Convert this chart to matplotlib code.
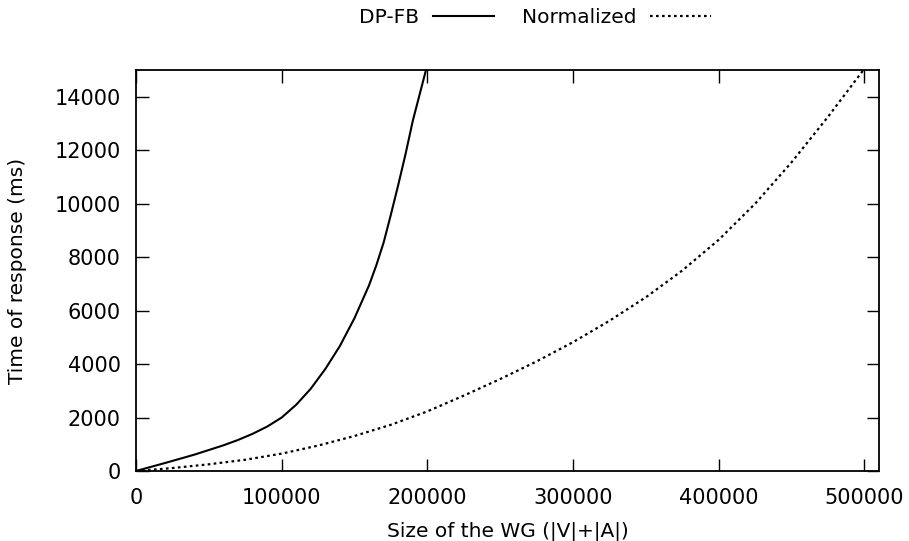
import matplotlib
matplotlib.use("Agg")
import matplotlib.pyplot as plt

# values
dpfb_x = [0, 20000, 40000, 60000, 70000, 80000, 90000, 100000, 110000, 120000,
          130000, 140000, 150000, 160000, 165000, 170000, 175000, 180000,
          185000, 190000, 195000, 200000]
dpfb_y = [0, 300, 610, 960, 1160, 1390, 1660, 2000, 2480, 3080,
          3820, 4680, 5720, 6950, 7700, 8550, 9600, 10700,
          11850, 13100, 14150, 15200]

norm_x = [0, 25000, 50000, 75000, 100000, 125000, 150000, 175000, 200000, 225000,
          250000, 275000, 300000, 325000, 350000, 375000, 400000, 425000, 450000,
          475000, 500000]
norm_y = [0, 110, 250, 420, 650, 950, 1310, 1730, 2230, 2820,
          3440, 4100, 4820, 5620, 6500, 7500, 8650, 10000, 11550,
          13250, 15050]

x_ticks = [0, 100000, 200000, 300000, 400000, 500000]
y_ticks = [0, 2000, 4000, 6000, 8000, 10000, 12000, 14000]

plt.rcParams['font.family'] = ['DejaVu Sans']
plt.rcParams['font.size'] = 14.5

fig = plt.figure(figsize=(9.09, 5.41), dpi=100)
ax = fig.add_axes([0.1496, 0.1294, 0.967 - 0.1496, 0.8706 - 0.1294])

ax.plot(dpfb_x, dpfb_y, color='black', lw=1.5, label='DP-FB')
ax.plot(norm_x, norm_y, color='black', lw=1.6, linestyle=(0, (1.2, 1.5)),
        label='Normalized')

ax.set_xlim(0, 510000)
ax.set_ylim(0, 15000)
ax.set_xticks(x_ticks)
ax.set_yticks(y_ticks)
ax.set_xticklabels([str(v) for v in x_ticks])
ax.set_yticklabels([str(v) for v in y_ticks])
ax.tick_params(direction='in', length=9, width=1, top=True, right=True,
               colors='black', labelsize=15)
ax.tick_params(axis='x', pad=12)
ax.tick_params(axis='y', pad=11)
for s in ax.spines.values():
    s.set_linewidth(1.3)

ax.set_xlabel('Size of the WG (|V|+|A|)', labelpad=10)
ax.set_ylabel('Time of response (ms)', labelpad=20)

ax.legend(loc='center', bbox_to_anchor=(0.537, 1.13), ncol=2, frameon=False,
          markerfirst=False, handlelength=3.0, columnspacing=1.4,
          handletextpad=0.7)

fig.savefig('out.png', dpi=100)
